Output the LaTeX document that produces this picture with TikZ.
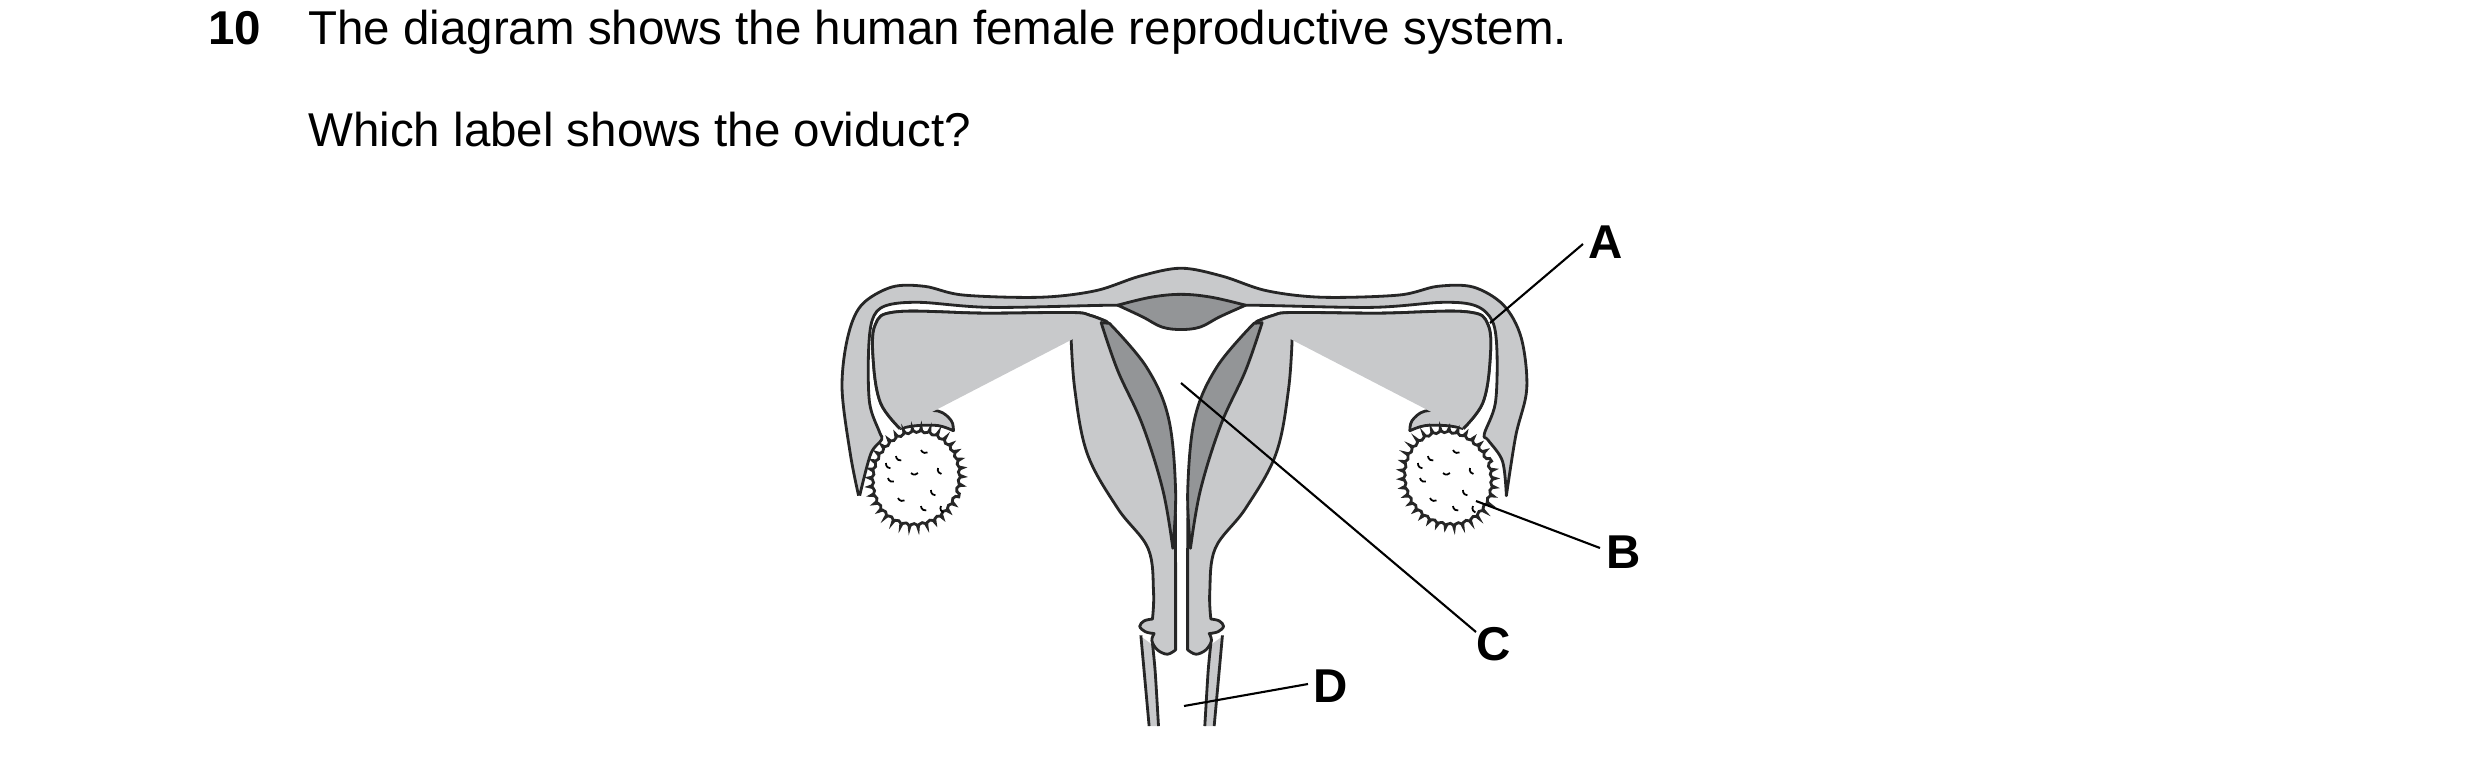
\documentclass[tikz,border=0pt]{standalone}
\usepackage{fontspec}
\setmainfont{Liberation Sans}
\usetikzlibrary{decorations.pathmorphing}
\definecolor{lg}{HTML}{C8C9CB}
\definecolor{dg}{HTML}{939597}
\tikzset{
  organ/.style={draw=black!85,line width=0.8pt,line join=round,fill=lg},
  dark/.style={draw=black!85,line width=0.8pt,line join=round,fill=dg},
  lbl/.style={font=\fontsize{13.5}{16}\selectfont\bfseries},
  txt/.style={font=\fontsize{13.5}{16}\selectfont,anchor=base west},
  pointer/.style={line width=0.6pt},
  ovary/.style={draw=black!85,line width=0.8pt,fill=white,decorate,decoration={bumps,segment length=5pt,amplitude=1.2pt}}
}
\newcommand{\halfside}{%
  % left arm + left uterine wall
  \path[organ] (145,630) -- plot[smooth,tension=0.6] coordinates {(145,630) (110,560) (97,450) (100,345) (140,308) (300,312) (455,310) (490,318) (520,335)}
    -- plot[smooth,tension=0.6] coordinates {(520,335) (590,460) (630,600) (643,800) (645,1000) (645,1240)}
    -- plot[smooth,tension=0.6] coordinates {(645,1240) (630,1252) (612,1240) (602,1215) (606,1195)}
    -- plot[smooth,tension=0.6] coordinates {(606,1195) (590,1190) (580,1175) (588,1160) (603,1155)}
    -- plot[smooth,tension=0.6] coordinates {(603,1155) (605,1080) (595,960) (540,850) (485,700) (462,520) (455,360)}
    -- plot[smooth,tension=0.6] coordinates {(455,360) (400,366) (300,358) (170,355) (132,392) (132,470) (152,545) (172,582)}
    -- plot[smooth,tension=0.6] coordinates {(172,582) (215,582) (238,608) (242,636)}
    -- plot[smooth,tension=0.6] coordinates {(242,636) (215,622) (175,622) (145,630)};
  \draw[organ] plot[smooth,tension=0.6] coordinates {(145,630) (110,560) (97,450) (100,345) (140,308) (300,312) (455,310) (490,318) (520,335)};
  \draw[line width=0.8pt,draw=black!85] plot[smooth,tension=0.6] coordinates {(645,960) (645,1240)};
  % dark endometrium
  \draw[dark] plot[smooth,tension=0.6] coordinates {(510,338) (540,470) (585,620) (622,800) (640,960)}
    -- plot[smooth,tension=0.6] coordinates {(640,960) (645,800) (632,600) (592,460) (525,340)} -- cycle;
  % vagina strip
  \path[fill=lg] (584,1205) -- (597,1450) -- (614,1450) -- (605,1228) -- cycle;
  \draw[line width=0.8pt,draw=black!85] plot[smooth] coordinates {(582,1200) (588,1300) (597,1450)};
  \draw[line width=0.8pt,draw=black!85] plot[smooth] coordinates {(603,1222) (608,1300) (614,1450)};
}
\begin{document}
\begin{tikzpicture}[x=0.01cm,y=-0.01cm]
\useasboundingbox (0,0) rectangle (2480,766);
\node[lbl,anchor=base west] (num) at (196,44) {10};
\node[txt] (t1) at (296,44) {The diagram shows the human female reproductive system.};
\node[txt] (t2) at (296,146) {Which label shows the oviduct?};
\begin{scope}[shift={(820,200)},xscale=0.5513,yscale=0.3628]
  % outer tube band
  \draw[organ] plot[smooth,tension=0.55] coordinates {(70,815) (55,700) (40,520) (50,380) (75,290) (130,240) (190,238) (260,262) (400,268) (500,250) (580,210) (655,188) (730,210) (810,250) (910,268) (1050,262) (1120,238) (1185,240) (1240,290) (1272,380) (1282,520) (1262,650) (1245,815)}
    -- plot[smooth,tension=0.55] coordinates {(1245,815) (1238,720) (1212,662) (1205,645) (1225,560) (1228,420) (1220,335) (1190,292) (1130,282) (1000,296) (780,290) (655,292) (530,290) (310,296) (180,282) (118,292) (95,330) (88,420) (90,560) (108,640) (112,660) (92,700) (72,815)};
  % fundus
  \draw[dark] plot[smooth,tension=0.6] coordinates {(540,290) (600,268) (655,260) (710,268) (772,290)}
    -- plot[smooth,tension=0.6] coordinates {(772,290) (725,322) (690,350) (655,357) (620,350) (585,322) (540,290)} -- cycle;
  \halfside
  \begin{scope}[shift={(1312,0)},xscale=-1]
    \halfside
  \end{scope}
\end{scope}
% ovaries
\draw[ovary,rotate around={-20:(916,478)}] (916,478) ellipse [x radius=0.46cm,y radius=0.5cm];
\draw[ovary,rotate around={25:(1448,478)}] (1448,478) ellipse [x radius=0.46cm,y radius=0.5cm];
\foreach \cx/\cy in {916/478,1448/478}{
  \foreach \dx/\dy/\a in {-20/-22/180,5/-28/200,22/-10/160,-28/0/190,-5/-5/220,15/12/170,-18/20/200,5/28/180,25/28/150,-30/-15/170}{
    \draw[line width=0.5pt] (\cx+\dx,\cy+\dy) arc[start angle=\a,end angle=\a+100,radius=0.045cm];
  }
}
% labels
\coordinate (pa) at (1490,323); \coordinate (pa2) at (1583,244);
\coordinate (pb) at (1476,501); \coordinate (pb2) at (1600,548);
\coordinate (pc) at (1181,383); \coordinate (pc2) at (1476,632);
\coordinate (pd) at (1184,706); \coordinate (pd2) at (1308,684);
\draw[pointer] (pa) -- (pa2);
\draw[pointer] (pb) -- (pb2);
\draw[pointer] (pc) -- (pc2);
\draw[pointer] (pd) -- (pd2);
\node[lbl] (A) at (1606,242) {A};
\node[lbl] (B) at (1624,552) {B};
\node[lbl] (C) at (1494,644) {C};
\node[lbl] (D) at (1331,686) {D};
\end{tikzpicture}
\end{document}
